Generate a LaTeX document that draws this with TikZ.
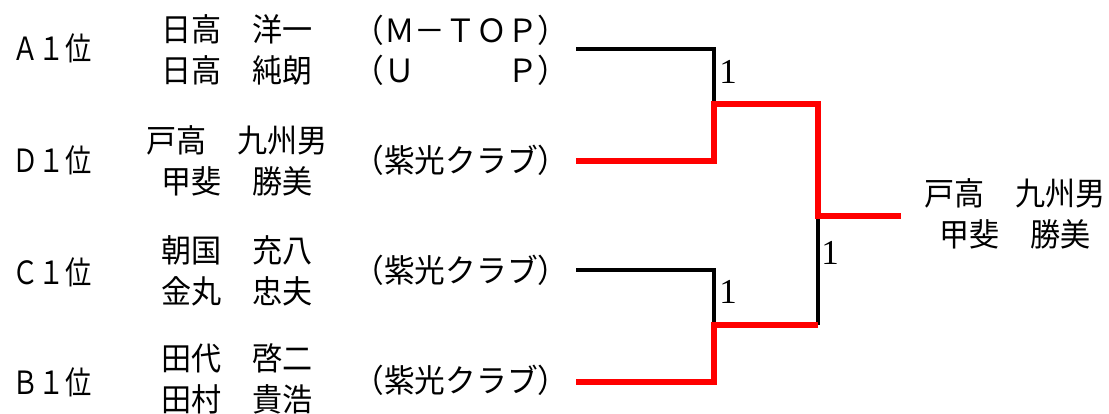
\documentclass[tikz,border=0pt]{standalone}
\usepackage{fontspec}
\usepackage{xcolor}
\newfontfamily\nombres{Noto Sans CJK JP}[FakeStretch=0.94]
\newfontfamily\puestos{Noto Sans CJK JP}[FakeStretch=0.82]
\newfontfamily\clubes{Noto Sans CJK JP}[FakeStretch=0.96]
\newfontfamily\cifras{Liberation Serif}
\definecolor{Rojo}{RGB}{255, 0, 0}
\definecolor{Negro}{RGB}{0, 0, 0}
\tikzset{
  puesto/.style={font=\puestos\fontsize{32}{40}\selectfont, inner sep=0pt},
  pareja/.style={font=\nombres\fontsize{32}{41}\selectfont, align=center, inner sep=0pt},
  club/.style={font=\clubes\fontsize{32}{40}\selectfont, align=center, inner sep=0pt},
  marcador/.style={font=\cifras\fontsize{35}{35}\selectfont, inner sep=0pt},
  perdedor/.style={draw=Negro, line width=4pt},
  ganador/.style={draw=Rojo, line width=5.5pt}
}

\begin{document}
\begin{tikzpicture}[x=1pt,y=-1pt]
            \useasboundingbox (0,0) rectangle (1109,414);
            %Puestos
            \node[puesto] (PA) at (52,48) {Ａ１位};
            \node[puesto] (PD) at (52,160) {Ｄ１位};
            \node[puesto] (PC) at (52,272) {Ｃ１位};
            \node[puesto] (PB) at (52,382) {Ｂ１位};
            %Parejas
            \node[pareja] (NA) at (237,50) {日高　洋一\\日高　純朗};
            \node[pareja] (ND) at (237,161) {戸高　九州男\\甲斐　勝美};
            \node[pareja] (NC) at (237,271) {朝国　充八\\金丸　忠夫};
            \node[pareja] (NB) at (237,379) {田代　啓二\\田村　貴浩};
            %Clubes
            \node[club] (CA) at (461,50) {（Ｍ－ＴＯＰ）\\（Ｕ　　　Ｐ）};
            \node[club] (CD) at (461,160) {（紫光クラブ）};
            \node[club] (CC) at (461,270) {（紫光クラブ）};
            \node[club] (CB) at (461,380) {（紫光クラブ）};
            %Llave
            \coordinate (A) at (576,49);
            \coordinate (D) at (576,161);
            \coordinate (C) at (576,270);
            \coordinate (B) at (576,382);
            \coordinate (S1) at (714,104);
            \coordinate (S2) at (714,325);
            \coordinate (F) at (818,216);
            \coordinate (W) at (901,216);
            \draw[perdedor] (A) -| (S1);
            \draw[perdedor] (C) -| (S2);
            \draw[perdedor] (F) -- (F |- S2);
            \draw[ganador] (D) -| (S1) -| (F) -- (W);
            \draw[ganador] (B) -| (S2) -- (S2 -| F);
            \node[marcador] (M1) at (728,72) {1};
            \node[marcador] (M2) at (830,253) {1};
            \node[marcador] (M3) at (728,292) {1};
            %Campeon
            \node[pareja] (G) at (1015,214) {戸高　九州男\\甲斐　勝美};
\end{tikzpicture}
\end{document}
